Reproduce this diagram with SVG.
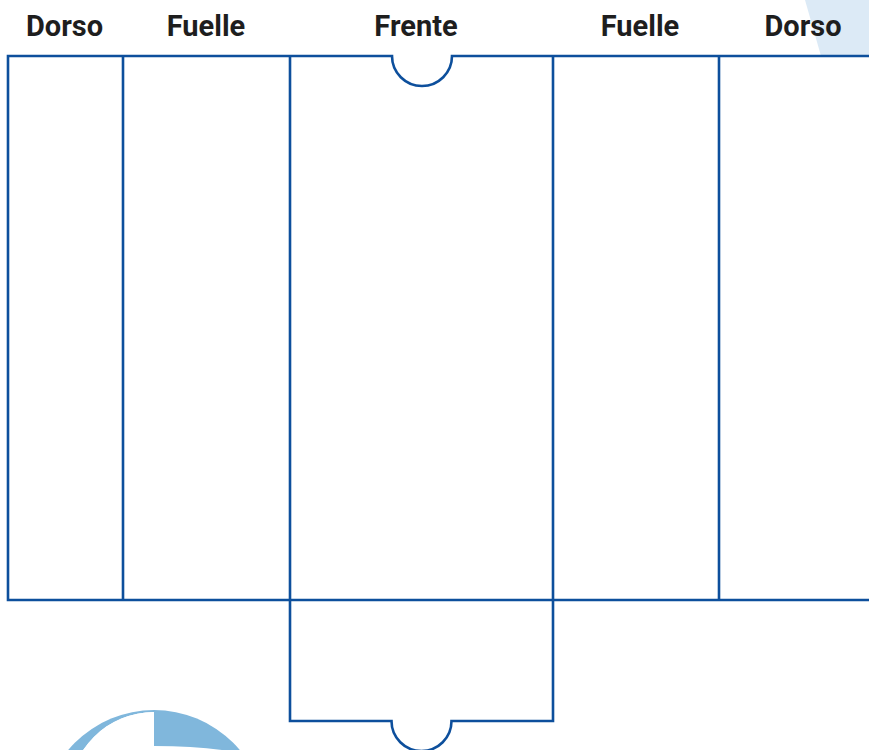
<svg xmlns="http://www.w3.org/2000/svg" width="869" height="750" viewBox="0 0 869 750">
<style>
.ln{fill:none;stroke:#0d4f9c;stroke-width:2.6;stroke-linejoin:miter}
.lbl{font-family:Roboto,"Liberation Sans",sans-serif;font-weight:bold;font-size:29px;fill:#1e1e1e;text-anchor:middle}
</style>
<rect width="869" height="750" fill="#fff"/>
<polygon points="805,0 869,0 869,56 821,56" fill="#dceaf6"/>
<g id="deco">
<circle cx="154" cy="822" r="112" fill="#80b7dc"/>
<path d="M154,712 A85,85 0 0 0 69,797 L69,760 L154,760 Z" fill="#fff"/>
<path d="M154,712 A85,85 0 0 0 69,797 L154,797 Z" fill="#fff"/>
<path d="M154,746 Q205,746 240,753 L240,760 L154,760 Z" fill="#fff"/>
</g>
<g id="labels">
<text id="t1" class="lbl" x="64.5" y="36">Dorso</text>
<text id="t2" class="lbl" x="206" y="36">Fuelle</text>
<text id="t3" class="lbl" x="416" y="36">Frente</text>
<text id="t4" class="lbl" x="640" y="36">Fuelle</text>
<text id="t5" class="lbl" x="803" y="36">Dorso</text>
</g>
<g id="outline">
<path class="ln" d="M869,56 L452,56 A30,30 0 0 1 392,56 L8,56 L8,600 L869,600"/>
<line class="ln" x1="123" y1="56" x2="123" y2="600"/>
<line class="ln" x1="719" y1="56" x2="719" y2="600"/>
<path id="front" class="ln" d="M290,56 L290,721 L391.5,721 A30,30 0 0 0 451.5,721 L553,721 L553,56"/>
</g>
</svg>
